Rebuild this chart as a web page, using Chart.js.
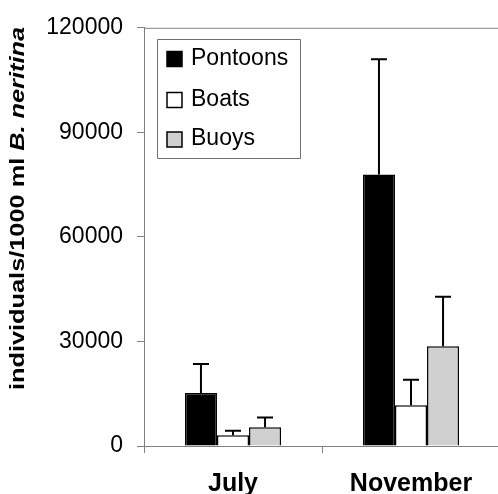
<!DOCTYPE html>
<html>
<head>
<meta charset="utf-8">
<script src="https://cdn.jsdelivr.net/npm/chart.js@4"></script>
<style>
html,body{margin:0;padding:0;background:#fff;overflow:hidden;}
#wrap{width:498px;height:494px;position:relative;overflow:hidden;}
</style>
</head>
<body>
<div id="wrap"><canvas id="c" width="500" height="494"></canvas></div>
<script>
const categories = ['July', 'November'];
const seriesNames = ['Pontoons', 'Boats', 'Buoys'];
const pontoons = [15200, 77900];
const pontoonsErr = [8300, 33100];
const boats = [3100, 11700];
const boatsErr = [1300, 7300];
const buoys = [5400, 28600];
const buoysErr = [2800, 14200];
const yTicks = [0, 30000, 60000, 90000, 120000];
const yTitleMain = 'individuals/1000 ml ';
const yTitleItalic = 'B. neritina';

const fills = ['#000000', '#ffffff', '#d0d0d0'];
const errs = [pontoonsErr, boatsErr, buoysErr];
const AXIS = '#808080';

const errorBarPlugin = {
  id: 'errorBars',
  afterDatasetsDraw(chart) {
    const ctx = chart.ctx;
    const y = chart.scales.y;
    ctx.save();
    ctx.strokeStyle = '#000';
    ctx.lineWidth = 2;
    chart.data.datasets.forEach((ds, i) => {
      const meta = chart.getDatasetMeta(i);
      meta.data.forEach((bar, j) => {
        const top = y.getPixelForValue(ds.data[j]);
        const et = y.getPixelForValue(ds.data[j] + errs[i][j]);
        ctx.beginPath();
        ctx.moveTo(bar.x, top);
        ctx.lineTo(bar.x, et);
        ctx.moveTo(bar.x - 8, et);
        ctx.lineTo(bar.x + 8, et);
        ctx.stroke();
      });
    });
    ctx.restore();
  }
};

const legendPlugin = {
  id: 'boxLegend',
  afterDraw(chart) {
    const ctx = chart.ctx;
    ctx.save();
    ctx.beginPath();
    ctx.lineWidth = 1;
    ctx.strokeStyle = '#707070';
    ctx.rect(157.5, 39.5, 143, 119);
    ctx.stroke();
    const rows = [58.5, 99.5, 139];
    ctx.font = '23px "Liberation Sans", Arial, sans-serif';
    ctx.textBaseline = 'middle';
    ctx.textAlign = 'left';
    seriesNames.forEach((n, i) => {
      const cy = rows[i];
      ctx.beginPath();
      ctx.rect(167, cy - 7, 15, 15);
      ctx.fillStyle = fills[i];
      ctx.fill();
      ctx.strokeStyle = '#000';
      ctx.lineWidth = 1.5;
      ctx.stroke();
      ctx.fillStyle = '#000';
      ctx.fillText(n, 191, cy);
    });
    ctx.beginPath();
    ctx.restore();
  }
};

const titlePlugin = {
  id: 'yTitle',
  afterDraw(chart) {
    const ctx = chart.ctx;
    ctx.save();
    const fontMain = 'bold 21px "Liberation Sans", Arial, sans-serif';
    const fontIt = 'italic bold 21px "Liberation Sans", Arial, sans-serif';
    ctx.font = fontMain;
    const w1 = ctx.measureText(yTitleMain).width;
    ctx.font = fontIt;
    const w2 = ctx.measureText(yTitleItalic).width;
    const total = w1 + w2;
    const sx = 363 / total;
    ctx.translate(18, 208.5);
    ctx.rotate(-Math.PI / 2);
    ctx.scale(sx, 1);
    ctx.textBaseline = 'middle';
    ctx.textAlign = 'left';
    ctx.fillStyle = '#000';
    ctx.font = fontMain;
    ctx.fillText(yTitleMain, -total / 2, 0);
    ctx.font = fontIt;
    ctx.fillText(yTitleItalic, -total / 2 + w1, 0);
    ctx.restore();
  }
};

const frameFixPlugin = {
  id: 'frameFix',
  afterDraw(chart) {
    const ctx = chart.ctx;
    const a = chart.chartArea;
    ctx.save();
    ctx.fillStyle = '#fff';
    ctx.fillRect(a.right - 5, a.top + 2, 5, a.bottom - a.top - 3);
    ctx.strokeStyle = AXIS;
    ctx.lineWidth = 1;
    ctx.beginPath();
    ctx.moveTo(a.left, a.top + 0.5);
    ctx.lineTo(a.right, a.top + 0.5);
    ctx.stroke();
    ctx.beginPath();
    ctx.restore();
  }
};

const dataSets = [pontoons, boats, buoys].map((d, i) => ({
  label: seriesNames[i],
  data: d,
  backgroundColor: fills[i],
  borderColor: '#000',
  borderWidth: 1.5,
  categoryPercentage: 0.54,
  barPercentage: 1.0
}));

new Chart(document.getElementById('c'), {
  type: 'bar',
  data: { labels: categories, datasets: dataSets },
  options: {
    responsive: false,
    animation: false,
    layout: { padding: { top: 25, right: 0, left: 0, bottom: 0 } },
    plugins: { legend: { display: false }, tooltip: { enabled: false } },
    scales: {
      x: {
        grid: { drawOnChartArea: false, tickLength: 7, color: AXIS },
        border: { color: AXIS, width: 1 },
        ticks: { color: '#000', font: { family: '"Liberation Sans", Arial, sans-serif', size: 25, weight: 'bold' }, padding: 16 },
        afterFit(s) { s.height = 48; }
      },
      y: {
        min: 0, max: 120000,
        afterBuildTicks(s) { s.ticks = yTicks.map(v => ({ value: v })); },
        grid: { drawOnChartArea: false, tickLength: 7, color: AXIS },
        border: { color: AXIS, width: 1 },
        ticks: { color: '#000', font: { family: '"Liberation Sans", Arial, sans-serif', size: 23 }, padding: 14, callback: (v) => String(v) },
        afterFit(s) { s.width = 144; }
      }
    }
  },
  plugins: [errorBarPlugin, legendPlugin, titlePlugin, frameFixPlugin]
});
</script>
</body>
</html>
